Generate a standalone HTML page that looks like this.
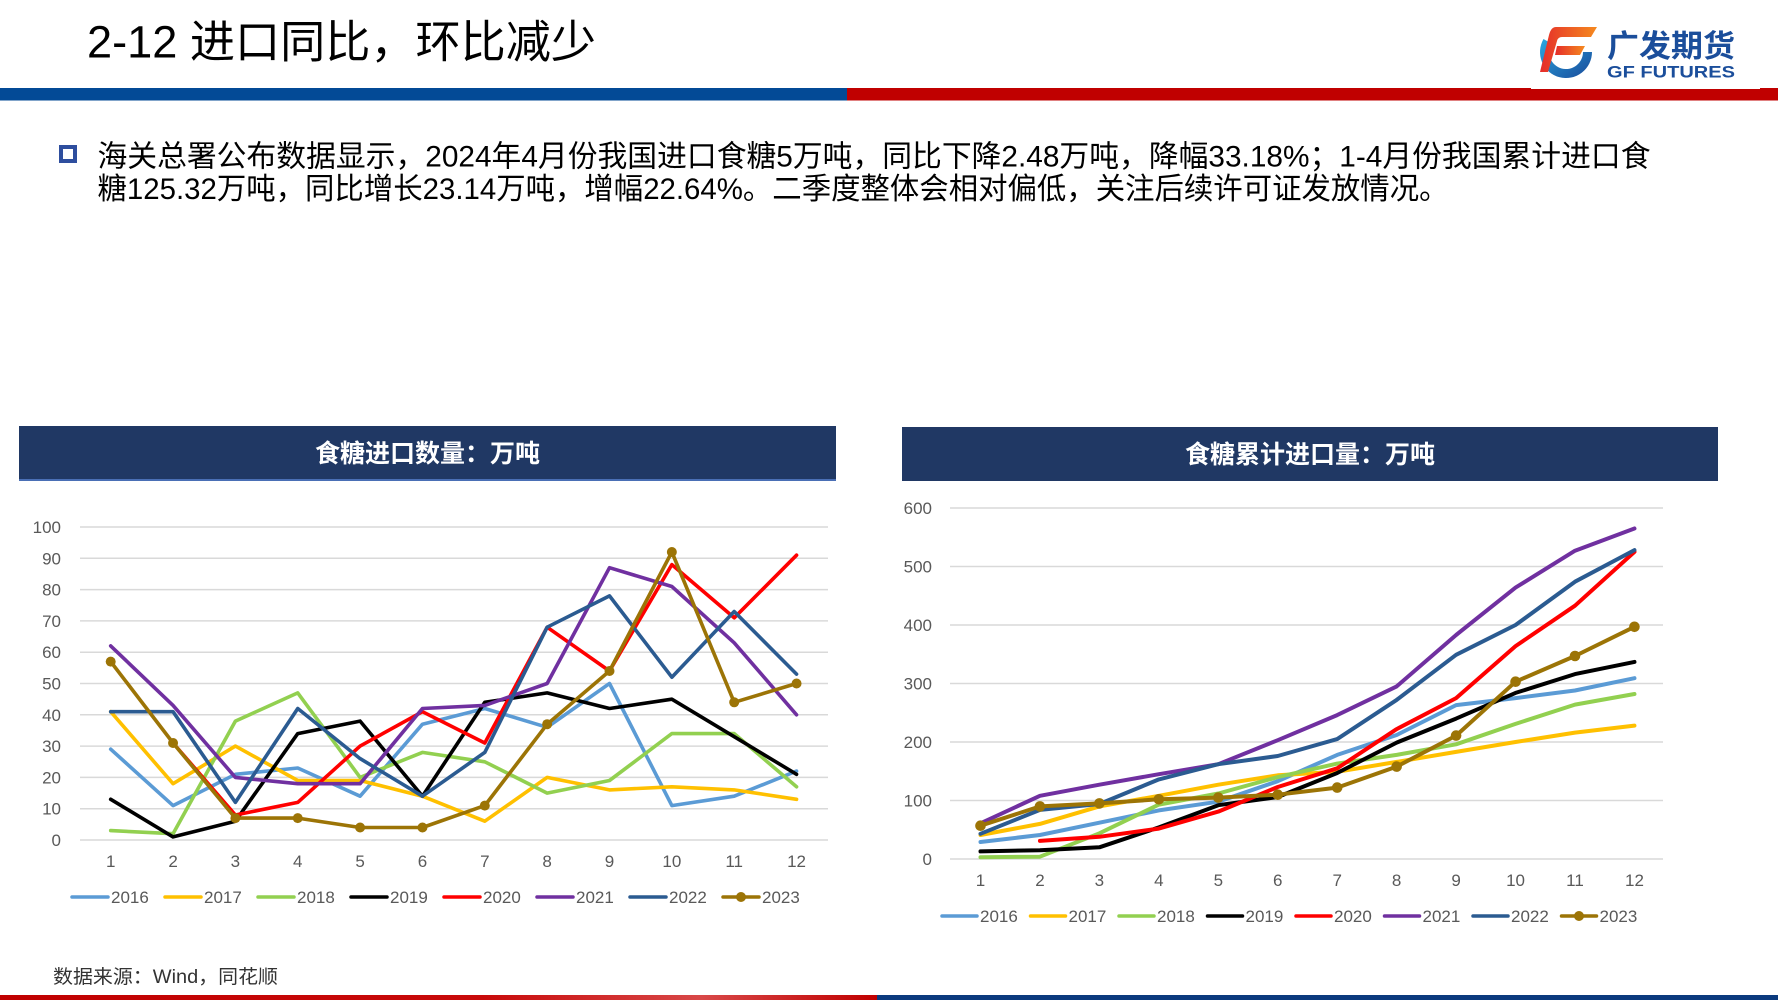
<!DOCTYPE html>
<html><head><meta charset="utf-8"><style>
html,body{margin:0;padding:0;background:#fff;}
body{width:1778px;height:1000px;overflow:hidden;}
svg{display:block;}
text{font-family:"Liberation Sans","Noto Sans CJK SC",sans-serif;}
</style></head><body>
<svg width="1778" height="1000" viewBox="0 0 1778 1000" xmlns="http://www.w3.org/2000/svg">
<defs>
<linearGradient id="gb" x1="0" y1="0" x2="1" y2="1"><stop offset="0" stop-color="#29A8E0"/><stop offset="1" stop-color="#1A4A9A"/></linearGradient>
<linearGradient id="gr" x1="0" y1="0" x2="1" y2="0"><stop offset="0" stop-color="#E52C2A"/><stop offset="1" stop-color="#F58A1F"/></linearGradient>
<linearGradient id="fr" x1="0" y1="0" x2="1" y2="0"><stop offset="0" stop-color="#C00000"/><stop offset="0.55" stop-color="#C80A0A"/><stop offset="0.8" stop-color="#D84848"/><stop offset="1" stop-color="#C00000"/></linearGradient>
</defs>

<!-- Title -->
<text x="87" y="57.5" font-size="45" fill="#000" textLength="509" lengthAdjust="spacingAndGlyphs">2-12 进口同比，环比减少</text>

<!-- top bars -->
<rect x="0" y="88" width="847" height="12.5" fill="#034A96"/>
<rect x="847" y="88" width="931" height="12.5" fill="#C00000"/>
<rect x="1531" y="86" width="229" height="3" fill="#fff"/>

<!-- logo -->
<path d="M1543.5,39 A26,26 0 1 0 1592,52 L1583,52 A17,17 0 1 1 1551.3,43.5 Z" fill="url(#gb)"/>
<path d="M1556,27 L1597,27 L1591,37 L1562,37 Q1558,37 1557,41 L1548,72 L1540,72 L1549,35 Q1551,27 1556,27 Z" fill="url(#gr)"/>
<path d="M1557,46 L1585,46 L1580,55 L1555,55 Z" fill="url(#gr)"/>
<text x="1607" y="57" font-size="31" font-weight="bold" fill="#1B4E9B" textLength="128" lengthAdjust="spacingAndGlyphs">广发期货</text>
<text x="1607" y="77.5" font-size="17" font-weight="bold" fill="#1B4E9B" textLength="128" lengthAdjust="spacingAndGlyphs">GF FUTURES</text>

<!-- bullet + body -->
<rect x="61" y="147" width="14" height="14" fill="none" stroke="#2E4E9E" stroke-width="4"/>
<text x="97.5" y="166.5" font-size="30" fill="#000" textLength="1553" lengthAdjust="spacingAndGlyphs">海关总署公布数据显示，2024年4月份我国进口食糖5万吨，同比下降2.48万吨，降幅33.18%；1-4月份我国累计进口食</text>
<text x="97.5" y="199" font-size="30" fill="#000" textLength="1351" lengthAdjust="spacingAndGlyphs">糖125.32万吨，同比增长23.14万吨，增幅22.64%。二季度整体会相对偏低，关注后续许可证发放情况。</text>

<!-- ============ LEFT CHART ============ -->
<rect x="19" y="426" width="817" height="55" fill="#203864"/>
<rect x="19" y="479" width="817" height="2" fill="#4A6FB5"/>
<text x="427.5" y="462" font-size="25" font-weight="bold" fill="#fff" text-anchor="middle">食糖进口数量：万吨</text>

<g stroke="#D9D9D9" stroke-width="1.5">
<line x1="80" x2="828" y1="527" y2="527"/>
<line x1="80" x2="828" y1="558.3" y2="558.3"/>
<line x1="80" x2="828" y1="589.6" y2="589.6"/>
<line x1="80" x2="828" y1="620.9" y2="620.9"/>
<line x1="80" x2="828" y1="652.2" y2="652.2"/>
<line x1="80" x2="828" y1="683.5" y2="683.5"/>
<line x1="80" x2="828" y1="714.8" y2="714.8"/>
<line x1="80" x2="828" y1="746.1" y2="746.1"/>
<line x1="80" x2="828" y1="777.4" y2="777.4"/>
<line x1="80" x2="828" y1="808.7" y2="808.7"/>
<line x1="80" x2="828" y1="840" y2="840"/>
</g>
<g font-size="17" fill="#595959" text-anchor="end">
<text x="61" y="533">100</text>
<text x="61" y="564.3">90</text>
<text x="61" y="595.6">80</text>
<text x="61" y="626.9">70</text>
<text x="61" y="658.2">60</text>
<text x="61" y="689.5">50</text>
<text x="61" y="720.8">40</text>
<text x="61" y="752.1">30</text>
<text x="61" y="783.4">20</text>
<text x="61" y="814.7">10</text>
<text x="61" y="846">0</text>
</g>
<g font-size="17" fill="#595959" text-anchor="middle">
<text x="110.7" y="867">1</text>
<text x="173.05" y="867">2</text>
<text x="235.4" y="867">3</text>
<text x="297.75" y="867">4</text>
<text x="360.1" y="867">5</text>
<text x="422.45" y="867">6</text>
<text x="484.8" y="867">7</text>
<text x="547.15" y="867">8</text>
<text x="609.5" y="867">9</text>
<text x="671.85" y="867">10</text>
<text x="734.2" y="867">11</text>
<text x="796.55" y="867">12</text>
</g>

<g fill="none" stroke-width="3.6" stroke-linejoin="round" stroke-linecap="round">
<polyline stroke="#5B9BD5" points="110.7,749.2 173.05,805.6 235.4,774.3 297.75,768.0 360.1,796.2 422.45,724.2 484.8,708.5 547.15,727.3 609.5,683.5 671.85,805.6 734.2,796.2 796.55,771.1"/>
<polyline stroke="#FFC000" points="110.7,711.7 173.05,783.7 235.4,746.1 297.75,780.5 360.1,780.5 422.45,796.2 484.8,821.2 547.15,777.4 609.5,789.9 671.85,786.8 734.2,789.9 796.55,799.3"/>
<polyline stroke="#92D050" points="110.7,830.6 173.05,833.7 235.4,721.1 297.75,692.9 360.1,777.4 422.45,752.4 484.8,761.8 547.15,793.1 609.5,780.5 671.85,733.6 734.2,733.6 796.55,786.8"/>
<polyline stroke="#000000" points="110.7,799.3 173.05,836.9 235.4,821.2 297.75,733.6 360.1,721.1 422.45,796.2 484.8,702.3 547.15,692.9 609.5,708.5 671.85,699.2 734.2,736.7 796.55,774.3"/>
<polyline stroke="#FF0000" points="173.05,743.0 235.4,815.0 297.75,802.4 360.1,746.1 422.45,711.7 484.8,743.0 547.15,627.2 609.5,671.0 671.85,564.6 734.2,617.8 796.55,555.2"/>
<polyline stroke="#7030A0" points="110.7,645.9 173.05,705.4 235.4,777.4 297.75,783.7 360.1,783.7 422.45,708.5 484.8,705.4 547.15,683.5 609.5,567.7 671.85,586.5 734.2,642.8 796.55,714.8"/>
<polyline stroke="#2B5B91" points="110.7,711.7 173.05,711.7 235.4,802.4 297.75,708.5 360.1,758.6 422.45,796.2 484.8,752.4 547.15,627.2 609.5,595.9 671.85,677.2 734.2,611.5 796.55,674.1"/>
<polyline stroke="#9C7406" points="110.7,661.6 173.05,743.0 235.4,818.1 297.75,818.1 360.1,827.5 422.45,827.5 484.8,805.6 547.15,724.2 609.5,671.0 671.85,552.0 734.2,702.3 796.55,683.5"/>
</g>
<g fill="#9C7406">
<circle cx="110.7" cy="661.6" r="5"/><circle cx="173.05" cy="743.0" r="5"/><circle cx="235.4" cy="818.1" r="5"/><circle cx="297.75" cy="818.1" r="5"/><circle cx="360.1" cy="827.5" r="5"/><circle cx="422.45" cy="827.5" r="5"/><circle cx="484.8" cy="805.6" r="5"/><circle cx="547.15" cy="724.2" r="5"/><circle cx="609.5" cy="671.0" r="5"/><circle cx="671.85" cy="552.0" r="5"/><circle cx="734.2" cy="702.3" r="5"/><circle cx="796.55" cy="683.5" r="5"/>
</g>

<!-- left legend -->
<g stroke-width="3.5" stroke-linecap="round">
<line x1="72" x2="108" y1="897" y2="897" stroke="#5B9BD5"/>
<line x1="165" x2="201" y1="897" y2="897" stroke="#FFC000"/>
<line x1="258" x2="294" y1="897" y2="897" stroke="#92D050"/>
<line x1="351" x2="387" y1="897" y2="897" stroke="#000000"/>
<line x1="444" x2="480" y1="897" y2="897" stroke="#FF0000"/>
<line x1="537" x2="573" y1="897" y2="897" stroke="#7030A0"/>
<line x1="630" x2="666" y1="897" y2="897" stroke="#2B5B91"/>
<line x1="723" x2="759" y1="897" y2="897" stroke="#9C7406"/>
</g>
<circle cx="741" cy="897" r="5" fill="#9C7406"/>
<g font-size="17" fill="#595959">
<text x="111" y="903">2016</text>
<text x="204" y="903">2017</text>
<text x="297" y="903">2018</text>
<text x="390" y="903">2019</text>
<text x="483" y="903">2020</text>
<text x="576" y="903">2021</text>
<text x="669" y="903">2022</text>
<text x="762" y="903">2023</text>
</g>

<!-- ============ RIGHT CHART ============ -->
<rect x="902" y="427" width="816" height="54" fill="#203864"/>
<text x="1310" y="463" font-size="25" font-weight="bold" fill="#fff" text-anchor="middle">食糖累计进口量：万吨</text>

<g stroke="#D9D9D9" stroke-width="1.5">
<line x1="950" x2="1663" y1="508" y2="508"/>
<line x1="950" x2="1663" y1="566.5" y2="566.5"/>
<line x1="950" x2="1663" y1="625" y2="625"/>
<line x1="950" x2="1663" y1="683.5" y2="683.5"/>
<line x1="950" x2="1663" y1="742" y2="742"/>
<line x1="950" x2="1663" y1="800.5" y2="800.5"/>
<line x1="950" x2="1663" y1="859" y2="859"/>
</g>
<g font-size="17" fill="#595959" text-anchor="end">
<text x="932" y="514">600</text>
<text x="932" y="572.5">500</text>
<text x="932" y="631">400</text>
<text x="932" y="689.5">300</text>
<text x="932" y="748">200</text>
<text x="932" y="806.5">100</text>
<text x="932" y="865">0</text>
</g>
<g font-size="17" fill="#595959" text-anchor="middle">
<text x="980.5" y="886">1</text>
<text x="1039.95" y="886">2</text>
<text x="1099.4" y="886">3</text>
<text x="1158.85" y="886">4</text>
<text x="1218.3" y="886">5</text>
<text x="1277.75" y="886">6</text>
<text x="1337.2" y="886">7</text>
<text x="1396.65" y="886">8</text>
<text x="1456.1" y="886">9</text>
<text x="1515.55" y="886">10</text>
<text x="1575" y="886">11</text>
<text x="1634.45" y="886">12</text>
</g>

<g fill="none" stroke-width="4" stroke-linejoin="round" stroke-linecap="round">
<polyline stroke="#5B9BD5" points="980.5,842.0 1039.95,835.0 1099.4,822.7 1158.85,810.4 1218.3,801.7 1277.75,781.2 1337.2,754.9 1396.65,735.0 1456.1,705.1 1515.55,698.1 1575,690.5 1634.45,678.2"/>
<polyline stroke="#FFC000" points="980.5,835.0 1039.95,823.9 1099.4,806.4 1158.85,795.8 1218.3,784.7 1277.75,775.3 1337.2,771.8 1396.65,761.9 1456.1,751.9 1515.55,742.0 1575,732.6 1634.45,725.6"/>
<polyline stroke="#92D050" points="980.5,857.2 1039.95,856.7 1099.4,833.3 1158.85,804.6 1218.3,793.5 1277.75,777.1 1337.2,763.6 1396.65,754.9 1456.1,744.3 1515.55,723.9 1575,704.6 1634.45,694.0"/>
<polyline stroke="#000000" points="980.5,851.4 1039.95,850.2 1099.4,847.3 1158.85,827.4 1218.3,805.2 1277.75,797.0 1337.2,773.0 1396.65,742.6 1456.1,718.6 1515.55,692.9 1575,674.1 1634.45,661.9"/>
<polyline stroke="#FF0000" points="1039.95,840.9 1099.4,836.8 1158.85,828.6 1218.3,811.6 1277.75,787.0 1337.2,768.3 1396.65,729.1 1456.1,698.1 1515.55,646.1 1575,605.7 1634.45,551.9"/>
<polyline stroke="#7030A0" points="980.5,823.3 1039.95,795.8 1099.4,784.7 1158.85,774.2 1218.3,764.2 1277.75,740.2 1337.2,715.1 1396.65,686.4 1456.1,635.0 1515.55,587.6 1575,550.7 1634.45,528.5"/>
<polyline stroke="#2B5B91" points="980.5,833.8 1039.95,809.9 1099.4,804.0 1158.85,779.4 1218.3,764.2 1277.75,756.0 1337.2,739.1 1396.65,699.9 1456.1,654.8 1515.55,625.0 1575,581.7 1634.45,550.1"/>
<polyline stroke="#9C7406" points="980.5,825.7 1039.95,806.4 1099.4,803.4 1158.85,799.3 1218.3,797.6 1277.75,794.7 1337.2,787.6 1396.65,766.6 1456.1,735.6 1515.55,681.7 1575,656.0 1634.45,626.8"/>
</g>
<g fill="#9C7406">
<circle cx="980.5" cy="825.7" r="5.3"/><circle cx="1039.95" cy="806.4" r="5.3"/><circle cx="1099.4" cy="803.4" r="5.3"/><circle cx="1158.85" cy="799.3" r="5.3"/><circle cx="1218.3" cy="797.6" r="5.3"/><circle cx="1277.75" cy="794.7" r="5.3"/><circle cx="1337.2" cy="787.6" r="5.3"/><circle cx="1396.65" cy="766.6" r="5.3"/><circle cx="1456.1" cy="735.6" r="5.3"/><circle cx="1515.55" cy="681.7" r="5.3"/><circle cx="1575" cy="656.0" r="5.3"/><circle cx="1634.45" cy="626.8" r="5.3"/>
</g>

<!-- right legend -->
<g stroke-width="3.5" stroke-linecap="round">
<line x1="942" x2="977" y1="916" y2="916" stroke="#5B9BD5"/>
<line x1="1030.5" x2="1065.5" y1="916" y2="916" stroke="#FFC000"/>
<line x1="1119" x2="1154" y1="916" y2="916" stroke="#92D050"/>
<line x1="1207.5" x2="1242.5" y1="916" y2="916" stroke="#000000"/>
<line x1="1296" x2="1331" y1="916" y2="916" stroke="#FF0000"/>
<line x1="1384.5" x2="1419.5" y1="916" y2="916" stroke="#7030A0"/>
<line x1="1473" x2="1508" y1="916" y2="916" stroke="#2B5B91"/>
<line x1="1561.5" x2="1596.5" y1="916" y2="916" stroke="#9C7406"/>
</g>
<circle cx="1579" cy="916" r="5" fill="#9C7406"/>
<g font-size="17" fill="#595959">
<text x="980" y="922">2016</text>
<text x="1068.5" y="922">2017</text>
<text x="1157" y="922">2018</text>
<text x="1245.5" y="922">2019</text>
<text x="1334" y="922">2020</text>
<text x="1422.5" y="922">2021</text>
<text x="1511" y="922">2022</text>
<text x="1599.5" y="922">2023</text>
</g>

<!-- footer -->
<text x="53" y="983" font-size="19" fill="#333" textLength="225" lengthAdjust="spacingAndGlyphs">数据来源：Wind，同花顺</text>
<rect x="0" y="995" width="877" height="5" fill="url(#fr)"/>
<rect x="877" y="995" width="901" height="5" fill="#0B3A7E"/>
</svg>
</body></html>
